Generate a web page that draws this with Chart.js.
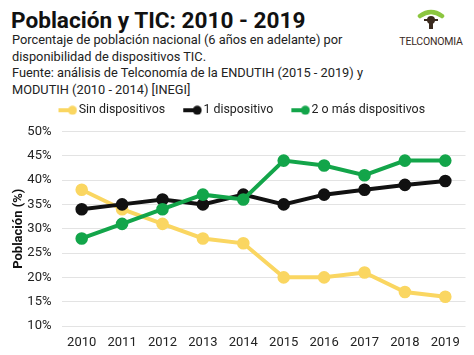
<!DOCTYPE html>
<html><head><meta charset="utf-8">
<script src="https://cdn.jsdelivr.net/npm/chart.js@4/dist/chart.umd.min.js"></script>
<style>
html,body{margin:0;padding:0;background:#fff;width:474px;height:355px;overflow:hidden;font-family:Roboto,sans-serif;}
#title{position:absolute;left:11px;top:7px;font-size:22.6px;font-weight:700;color:#111;}
#sub{position:absolute;left:12px;top:32px;font-size:12.8px;line-height:16.7px;color:#222;}
#logo{position:absolute;left:396px;top:8px;width:70px;text-align:center;}
#logo .t{font-size:10.5px;color:#3a2a1e;margin-top:1px;letter-spacing:-0.2px;}
#wrap{position:absolute;left:0;top:92px;width:474px;height:263px;}
</style></head><body>
<div id="title">Población y TIC: 2010 - 2019</div>
<div id="sub">Porcentaje de población nacional (6 años en adelante) por<br>disponibilidad de dispositivos TIC.<br>Fuente: análisis de Telconomía de la ENDUTIH (2015 - 2019) y<br>MODUTIH (2010 - 2014) [INEGI]</div>
<div id="logo"><svg width="30" height="22" viewBox="0 0 30 22"><path d="M4 8 Q15 0 26 8" stroke="#8cc63f" stroke-width="4.5" fill="none" stroke-linecap="round"/><path d="M8 11 H22 V13 H17 V21 H13 V13 H8 Z" fill="#3a2a1e"/><circle cx="15" cy="12" r="4" fill="#3a2a1e"/></svg><div class="t">TELCONOMIA</div></div>
<div id="wrap"><canvas id="c"></canvas></div>
<script>
const years = ["2010","2011","2012","2013","2014","2015","2016","2017","2018","2019"];
const sinDispositivos = [38,34,31,28,27,20,20,21,17,16];
const unDispositivo = [34,35,36,35,37,35,37,38,39,39.8];
const dosOMas = [28,31,34,37,36,44,43,41,44,44];
const seriesNames = ["Sin dispositivos","1 dispositivo","2 o más dispositivos"];
const colors = ["#fad661","#111111","#13a54a"];

function icon(color){
  const c=document.createElement('canvas');c.width=30;c.height=10;
  const x=c.getContext('2d');x.strokeStyle=color;x.lineWidth=4;x.beginPath();x.moveTo(11,5);x.lineTo(29,5);x.stroke();
  x.fillStyle=color;x.beginPath();x.arc(25,5,4.5,0,Math.PI*2);x.fill();return c;
}
const icons = colors.map(icon);
const data = [sinDispositivos,unDispositivo,dosOMas];
Chart.defaults.font.family = "Roboto, sans-serif";
const legendTweak = {id:'legendTweak',
  beforeInit(chart){const f=chart.legend.fit;chart.legend.fit=function(){f.call(this);this.height+=5;};},
  afterLayout(chart){chart.legend.left+=6;chart.legend.right+=6;}
};
new Chart(document.getElementById('c'),{
  type:'line',
  plugins:[legendTweak],
  data:{labels:years,datasets:data.map((d,i)=>({label:seriesNames[i],data:d,borderColor:colors[i],backgroundColor:colors[i],borderWidth:4,pointRadius:4.3,pointHoverRadius:4.3,tension:0,order:3-i}))},
  options:{responsive:true,maintainAspectRatio:false,animation:false,
    layout:{padding:{left:0,right:8.5,top:0,bottom:0}},
    plugins:{
      legend:{labels:{usePointStyle:true,pointStyleWidth:20,color:'#222',font:{size:12.4},padding:12,
        generateLabels:(ch)=>ch.data.datasets.map((ds,i)=>({text:ds.label,pointStyle:icons[i],fillStyle:colors[i],strokeStyle:colors[i],lineWidth:0,datasetIndex:i,hidden:false,fontColor:'#222'}))}},
      tooltip:{enabled:false}
    },
    scales:{
      x:{offset:true,grid:{display:false,drawTicks:false},border:{display:false},ticks:{color:'#222',font:{size:13},padding:9},
        afterFit(s){s.height=29;}},
      y:{min:10,max:50,ticks:{stepSize:5,color:'#222',font:{size:13},padding:10,callback:v=>v+'%'},grid:{color:'#e3e3e3',lineWidth:1,drawTicks:false},border:{display:false},
        title:{display:true,text:'Población (%)',color:'#111',font:{size:13,weight:'bold'},padding:{top:11,bottom:0}},
        afterFit(s){s.width=61.5;}}
    }
  }
});
</script>
</body></html>
